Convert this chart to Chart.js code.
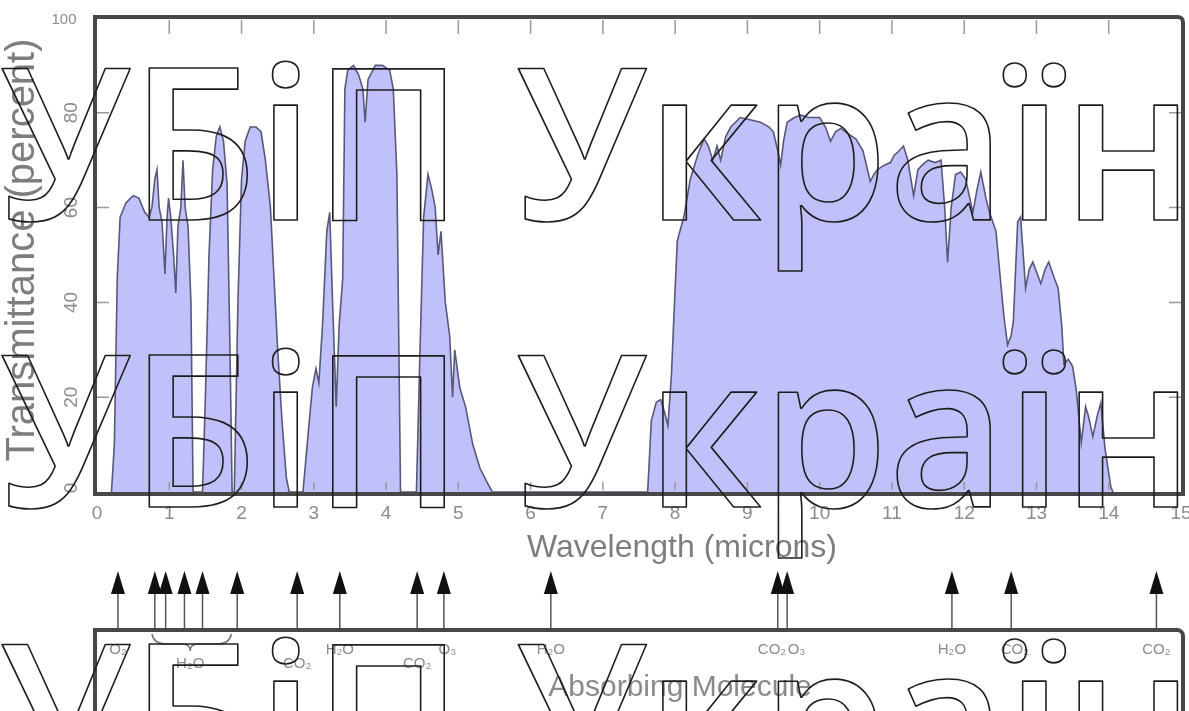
<!DOCTYPE html>
<html lang="uk">
<head>
<meta charset="UTF-8">
<title>Transmittance</title>
<script src="https://cdn.jsdelivr.net/npm/chart.js"></script>
<style>
    body { margin: 0; background: #ffffff; }
    #chart { display: block; }
</style>
</head>
<body>
<canvas id="chart" width="1189" height="711"></canvas>
<script>
// spectrum (microns / percent)
const wavelength = [
    0.20, 0.24, 0.28, 0.32, 0.40, 0.50, 0.58, 0.66, 0.72, 0.76, 0.80, 0.83, 0.86, 0.90, 0.94, 0.97, 0.99, 1.02, 1.06, 1.09, 1.12, 1.16, 1.19, 1.22, 1.26, 1.30, 1.33,
    1.46, 1.50, 1.55, 1.60, 1.65, 1.70, 1.75, 1.80, 1.84, 1.87,
    1.90, 1.95, 2.00, 2.05, 2.12, 2.20, 2.27, 2.33, 2.40, 2.45, 2.50, 2.56, 2.62, 2.66,
    2.85, 2.92, 2.98, 3.03, 3.07, 3.12, 3.18, 3.22, 3.26, 3.31, 3.35, 3.40, 3.43, 3.47, 3.55, 3.62, 3.68, 3.71, 3.75, 3.85, 3.95, 4.05, 4.10, 4.15, 4.20,
    4.42, 4.47, 4.52, 4.58, 4.63, 4.68, 4.72, 4.76, 4.82, 4.88, 4.92, 4.95, 5.02, 5.10, 5.20, 5.30, 5.40, 5.47,
    7.62, 7.67, 7.74, 7.80, 7.85, 7.90, 7.95, 7.98, 8.03, 8.12, 8.21, 8.31, 8.40, 8.46, 8.52, 8.58, 8.63, 8.70, 8.77, 8.90, 9.05, 9.18, 9.30, 9.36, 9.42, 9.46, 9.50, 9.55, 9.65, 9.74, 9.85, 10.00,
    10.08, 10.15, 10.22, 10.29, 10.40, 10.50, 10.60, 10.70, 10.75, 10.80, 10.90, 10.98, 11.03, 11.10, 11.16, 11.22, 11.30, 11.36, 11.42, 11.50, 11.60, 11.68, 11.73, 11.77, 11.82, 11.88, 11.95,
    12.02, 12.12, 12.18, 12.23, 12.30, 12.35, 12.44, 12.50, 12.55, 12.60, 12.65, 12.68, 12.72, 12.74, 12.78, 12.85, 12.90, 12.95, 13.06, 13.12, 13.17, 13.25, 13.30, 13.35, 13.38, 13.44,
    13.50, 13.55, 13.62, 13.68, 13.72, 13.78, 13.84, 13.89, 13.95, 14.03, 14.06
];
const transmittance = [
    0, 10, 45, 58, 61, 62.5, 62, 59, 58, 60, 66, 68, 60, 57, 46, 58, 62, 58, 50, 42, 56, 60, 70, 60, 56, 40, 0,
    0, 20, 50, 68, 75, 77, 74, 65, 30, 0,
    0, 40, 66, 74, 77, 77, 76, 70, 60, 45, 30, 15, 3, 0,
    0, 12, 22, 26, 23, 35, 55, 59, 40, 18, 35, 45, 85, 89, 90, 88, 85, 78, 87, 90, 90, 89, 85, 67, 0,
    0, 30, 58, 67, 64, 60, 50, 55, 40, 33, 20, 30, 22, 18, 10, 5, 2, 0,
    0, 15, 19, 19.5, 17, 14, 25, 36, 53, 58, 66, 71, 74.5, 73, 70, 73, 70, 75, 77, 79, 78.5, 78, 77, 76, 72, 69, 74, 78, 79, 79.5, 79, 79,
    77, 74, 76, 76.7, 75.5, 74.5, 72, 65.5, 67, 68, 69, 69.5, 71, 72, 73, 70, 62.5, 68, 69, 70, 69.5, 70, 60, 48.5, 60, 67, 67.5,
    66, 59, 64, 67.5, 62, 59, 55, 45, 37, 31, 33, 36, 50, 57, 58, 43, 47, 48.5, 44, 47, 48.5, 45, 43, 35, 27, 28,
    26.5, 21.6, 10.4, 18, 16, 11.7, 16, 18.8, 9, 1, 0
];

const xTicks = [0, 1, 2, 3, 4, 5, 6, 7, 8, 9, 10, 11, 12, 13, 14, 15];
const yTicks = [0, 20, 40, 60, 80, 100];

// absorbing molecules under the plot
const arrowWavelengths = [0.29, 0.80, 0.95, 1.21, 1.46, 1.94, 2.77, 3.36, 4.43, 4.80, 6.28, 9.42, 9.55, 11.83, 12.65, 14.66];
const moleculeNames = ['O₂', 'H₂O', 'CO₂', 'H₂O', 'CO₂', 'O₃', 'H₂O', 'CO₂', 'O₃', 'H₂O', 'CO₂', 'CO₂'];
const moleculeAt = [0.29, 1.29, 2.77, 3.36, 4.43, 4.85, 6.28, 9.34, 9.68, 11.83, 12.7, 14.66];
const moleculeRow = [0, 1, 1, 0, 1, 0, 0, 0, 0, 0, 0, 0];

const watermark = 'УБіП Україна';

const points = wavelength.map((w, i) => ({ x: w, y: transmittance[i] }));

const decor = {
    id: 'decor',
    beforeDraw(chart) {
        const ctx = chart.ctx;
        ctx.save();
        ctx.fillStyle = '#ffffff';
        ctx.fillRect(0, 0, chart.width, chart.height);
        ctx.restore();
    },
    afterDatasetsDraw(chart) {
        const ctx = chart.ctx;
        const a = chart.chartArea;
        const xs = chart.scales.x;
        const ys = chart.scales.y;
        ctx.save();

        // inner tick marks
        ctx.strokeStyle = '#9a9a9a';
        ctx.lineWidth = 1.5;
        xTicks.slice(1, -1).forEach(v => {
            const px = xs.getPixelForValue(v);
            ctx.beginPath();
            ctx.moveTo(px, a.top + 2); ctx.lineTo(px, a.top + 16);
            ctx.moveTo(px, a.bottom - 2); ctx.lineTo(px, a.bottom - 10);
            ctx.stroke();
        });
        yTicks.slice(1, -1).forEach(v => {
            const py = ys.getPixelForValue(v);
            ctx.beginPath();
            ctx.moveTo(a.left, py); ctx.lineTo(a.left + 12, py);
            ctx.moveTo(a.right, py); ctx.lineTo(a.right - 12, py);
            ctx.stroke();
        });

        // frame
        ctx.strokeStyle = '#474747';
        ctx.lineWidth = 4;
        ctx.beginPath();
        ctx.roundRect(a.left - 2, a.top - 1, a.right - a.left + 4, a.bottom - a.top + 3, [0, 5, 0, 0]);
        ctx.stroke();

        // tick labels
        ctx.fillStyle = '#8c8c8c';
        ctx.font = '19px "Liberation Sans", Arial, sans-serif';
        ctx.textAlign = 'center';
        ctx.textBaseline = 'middle';
        xTicks.forEach(v => ctx.fillText(String(v), xs.getPixelForValue(v), a.bottom + 22));
        yTicks.forEach(v => {
            const py = ys.getPixelForValue(v);
            if (v === 100) {
                ctx.font = '15px "Liberation Sans", Arial, sans-serif';
                ctx.fillText('100', 64, py + 2);
                return;
            }
            ctx.save();
            ctx.font = '19px "Liberation Sans", Arial, sans-serif';
            ctx.translate(72, v === 0 ? py - 4 : py);
            ctx.rotate(-Math.PI / 2);
            ctx.fillText(String(v), 0, 0);
            ctx.restore();
        });

        // axis titles
        ctx.fillStyle = '#7d7d7d';
        ctx.font = '32px "Liberation Sans", Arial, sans-serif';
        ctx.fillText('Wavelength (microns)', 682, 548);
        ctx.save();
        ctx.translate(23, 250);
        ctx.rotate(-Math.PI / 2);
        ctx.font = '40px "Liberation Sans", Arial, sans-serif';
        ctx.fillText('Transmittance (percent)', 0, 0);
        ctx.restore();

        // arrows
        arrowWavelengths.forEach(w => {
            const px = xs.getPixelForValue(w);
            ctx.strokeStyle = '#555';
            ctx.lineWidth = 1.5;
            ctx.beginPath();
            ctx.moveTo(px, 628); ctx.lineTo(px, 590);
            ctx.stroke();
            ctx.fillStyle = '#111';
            ctx.beginPath();
            ctx.moveTo(px, 571); ctx.lineTo(px + 7, 594); ctx.lineTo(px - 7, 594);
            ctx.closePath();
            ctx.fill();
        });

        // molecule box
        ctx.strokeStyle = '#474747';
        ctx.lineWidth = 4;
        ctx.beginPath();
        ctx.roundRect(a.left - 2, 630, a.right - a.left + 4, 120, [0, 6, 0, 0]);
        ctx.stroke();

        // brace under the water lines
        const b0 = xs.getPixelForValue(0.76), b1 = xs.getPixelForValue(1.86), bm = xs.getPixelForValue(1.29);
        ctx.strokeStyle = '#777';
        ctx.lineWidth = 1.5;
        ctx.beginPath();
        ctx.moveTo(b0, 634);
        ctx.quadraticCurveTo(b0 + 2, 644, b0 + 14, 644);
        ctx.lineTo(bm - 8, 644);
        ctx.quadraticCurveTo(bm, 644, bm, 651);
        ctx.quadraticCurveTo(bm, 644, bm + 8, 644);
        ctx.lineTo(b1 - 14, 644);
        ctx.quadraticCurveTo(b1 - 2, 644, b1, 634);
        ctx.stroke();

        ctx.fillStyle = '#8a8a8a';
        ctx.font = '15px "Liberation Sans", Arial, sans-serif';
        moleculeNames.forEach((t, i) => {
            ctx.fillText(t, xs.getPixelForValue(moleculeAt[i]), moleculeRow[i] ? 664 : 650);
        });
        ctx.font = '30px "Liberation Sans", Arial, sans-serif';
        ctx.fillText('Absorbing Molecule', 680, 688);

        // watermark outlines
        ctx.font = '600 213px "Open Sans", "DejaVu Sans", sans-serif';
        ctx.textAlign = 'left';
        ctx.textBaseline = 'alphabetic';
        const part = ctx.measureText('УБіП Україн');
        const inkL = -part.actualBoundingBoxLeft;
        const inkR = part.actualBoundingBoxRight;
        const sx = (1178 - 2) / (inkR - inkL);
        ctx.strokeStyle = '#1c1c1c';
        ctx.lineJoin = 'round';
        [220, 507, 796].forEach(base => {
            ctx.save();
            ctx.translate(2, base);
            ctx.scale(sx, 1);
            ctx.lineWidth = 1.6 / sx;
            ctx.strokeText(watermark, -inkL, 0);
            ctx.restore();
        });

        ctx.restore();
    }
};

new Chart(document.getElementById('chart'), {
    type: 'line',
    data: {
        datasets: [{
            data: points,
            fill: 'origin',
            backgroundColor: 'rgb(192, 192, 250)',
            borderColor: 'rgb(88, 88, 122)',
            borderWidth: 1.6,
            pointRadius: 0,
            tension: 0
        }]
    },
    options: {
        responsive: false,
        animation: false,
        layout: { padding: { left: 97, right: 8, top: 18, bottom: 219 } },
        plugins: { legend: { display: false }, tooltip: { enabled: false } },
        scales: {
            x: { type: 'linear', min: 0, max: 15, display: false },
            y: { min: 0, max: 100, display: false }
        }
    },
    plugins: [decor]
});
</script>
</body>
</html>
